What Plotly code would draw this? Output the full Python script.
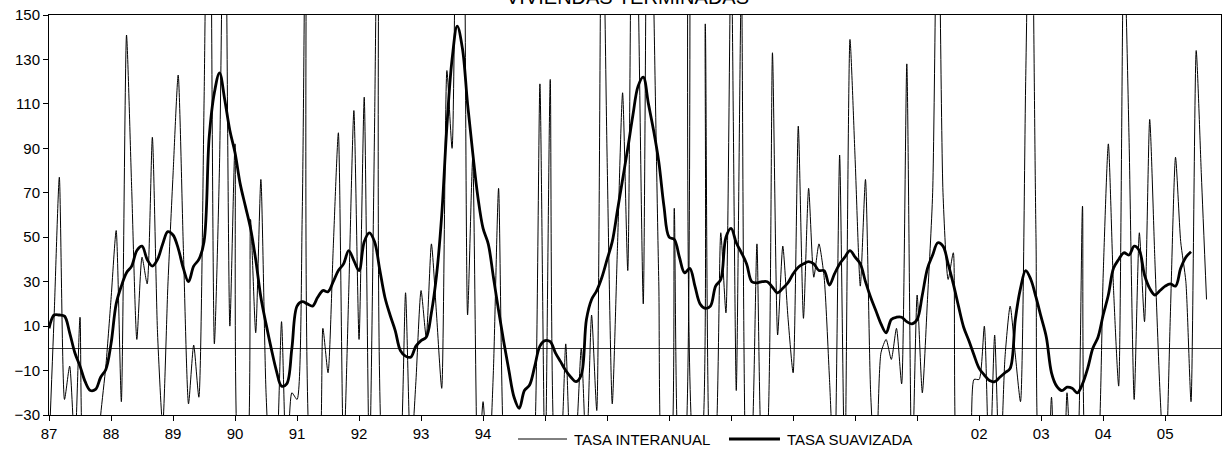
import plotly.graph_objects as go

# Monthly series, Jan 1987 = month 0
tasa_interanual = [
    -45, 15, 77, -23, -8, -45, 14, -60, -60, -60, -30, -8,          # 87
    22, 53, -24, 141, 72, 4, 41, 29, 95, 7, -35, 28,                # 88
    78, 123, 45, -25, 1.5, -22, 110, 300, 2, 83, 250, 10,           # 89
    92, -60, -60, 58, 7, 76, -20, -60, -50, 12, -60, -20,           # 90
    -23, 60, 300, -60, -60, 9, -11, 45, 97, -50, 25, 107,           # 91
    4, 113, -55, 100, 300, -60, -60, -60, -50, 25, -50, -15,        # 92
    26, 5, 47, 15, -18, 125, 90, 250, 300, 15, 86, -60,             # 93
    -24, -60, -10, 72, -45, -60, -60, -60, -60, -60, -40, 119,      # 94
    -60, 121, -50, -45, 2, -50, -40, 0, -50, 15, -28, 230,          # 95
    86, -25, 45, 115, 35, 260, 165, 20, 300, 160, 30, -60,          # 96
    -60, 63, -55, -50, 400, -50, -50, 146, -55, -45, 52, 16,        # 97
    185, -19, 169, -60, -45, 47, -50, -40, 133, 6, 46, 14,          # 98
    -11, 100, 13.5, 72, 32, 47, 32, -12, -60, 87, -60, 139,         # 99
    85, 28, 76, -20, -60, -2, 4, -5, 9, -16, 128, -60,              # 00
    24, -20, 22, 70, 230, 70, 31, 43, -60, -60, -60, -14,           # 01
    -14, 10, -60, 6, -60, -4, 19, -3, -24, 120, 250, 50,            # 02
    -60, -60, -22, -60, -60, -20, -60, -50, 64, -60, -60, -50,      # 03
    33, 92, 27, -17, 187, 95, -23, 52, 12, 103, 40, -20,            # 04
    -60, 15, 86, 48, 30, -24, 134, 78, 22,                          # 05
]

tasa_suavizada = [
    9, 15, 15, 14.5, 7, -2, -8, -15, -19, -18.5, -13, -9.5,         # 87
    2, 20, 28, 34, 37, 44, 46, 40, 37, 40, 47, 52.5,                # 88
    51, 45, 36, 30, 37, 40, 48, 95, 115, 124, 112, 98,              # 89
    88, 74, 64, 54, 40, 23, 11, 0, -10, -17, -16, 0,                # 90
    19, 21, 20, 19, 23, 26, 25.5, 30, 35, 38, 44, 39.5,             # 91
    35, 48, 52, 48, 35.5, 23, 15, 8, -1, -3.5, -4, 1,               # 92
    3.5, 5, 16, 33, 60, 100, 130, 145, 135, 110, 88, 68,            # 93
    54, 47, 32, 17, 3, -10, -22, -27, -19, -16.5, -8, 1,            # 94
    3.5, 3, -2, -6, -10, -13, -15, -12, 13, 22, 26, 32,             # 95
    40, 48, 62, 76, 90, 105, 118, 122, 110, 98, 84, 64,             # 96
    50, 49, 41, 34, 36, 28, 20, 18, 19, 28, 31, 50,                 # 97
    54, 47.5, 43, 38, 30, 29.5, 30, 30, 27.5, 25, 27, 29.5,         # 98
    33.5, 36.5, 38, 39, 38, 35, 35, 28.5, 33.5, 38, 41, 44,         # 99
    41, 38, 30, 23, 17, 11, 7, 13, 14, 14, 12, 11,                  # 00
    13, 24, 36, 42, 47.5, 46, 38, 29, 19, 9.5, 3.5, -3,             # 01
    -9, -12, -14.5, -15, -13, -11, -9, 13, 27, 35, 31, 23,          # 02
    14, 5, -11, -17, -19, -17.5, -18, -20, -16, -9, 0, 5,           # 03
    15, 24, 36, 40, 43, 42, 46, 44, 33, 27, 24, 26,                 # 04
    28, 29, 28, 36, 41, 43.5,                                       # 05
]

year_labels = ["87", "88", "89", "90", "91", "92", "93", "94", "95", "96",
               "97", "98", "99", "00", "01", "02", "03", "04", "05"]
hidden_by_legend = {"95", "96", "97", "98", "99", "00", "01"}
y_ticks = [-30, -10, 10, 30, 50, 70, 90, 110, 130, 150]

FONT = "Arial, Liberation Sans, sans-serif"

x_thin = list(range(len(tasa_interanual)))
x_thick = list(range(len(tasa_suavizada)))

fig = go.Figure()
fig.add_trace(go.Scatter(
    x=x_thin, y=tasa_interanual, mode="lines", name="TASA INTERANUAL",
    line=dict(color="#000000", width=1.0, shape="spline", smoothing=0.6),
    showlegend=False,
))
fig.add_trace(go.Scatter(
    x=x_thick, y=tasa_suavizada, mode="lines", name="TASA SUAVIZADA",
    line=dict(color="#000000", width=2.8, shape="spline", smoothing=1.0),
    showlegend=False,
))

tickvals = [12 * i for i in range(len(year_labels))]
ticktext = ["" if t in hidden_by_legend else t for t in year_labels]

fig.update_layout(
    width=1226, height=450,
    margin=dict(l=49, r=5, t=15, b=35, autoexpand=False),
    paper_bgcolor="white", plot_bgcolor="white",
    font=dict(family=FONT, size=15, color="#000"),
    xaxis=dict(
        range=[0, 226.8], tickvals=tickvals, ticktext=ticktext,
        automargin=False,
        showgrid=False, zeroline=False,
        showline=True, linecolor="#000", linewidth=1, mirror=True,
        ticks="outside", ticklen=5, tickcolor="#000",
        tickfont=dict(family=FONT, size=15, color="#000"),
    ),
    yaxis=dict(
        range=[-30, 150], tickvals=y_ticks,
        automargin=False,
        showgrid=False,
        zeroline=True, zerolinecolor="#333", zerolinewidth=1,
        showline=True, linecolor="#000", linewidth=1, mirror=True,
        ticks="outside", ticklen=5, tickcolor="#000",
        tickfont=dict(family=FONT, size=15, color="#000"),
    ),
)

# title, partly cut off at the top as in the reference
fig.add_annotation(
    text="VIVIENDAS TERMINADAS", xref="paper", yref="paper",
    x=0.4936, y=1.045, xanchor="center", yanchor="middle",
    showarrow=False, font=dict(family=FONT, size=20, color="#000"),
)

# legend drawn in the x-label row
ly = -0.06
fig.add_shape(type="line", xref="paper", yref="paper",
              x0=0.4002, x1=0.4420, y0=ly, y1=ly,
              line=dict(color="#000", width=1.0))
fig.add_annotation(text="TASA INTERANUAL", xref="paper", yref="paper",
                   x=0.4462, y=ly, xanchor="left", yanchor="middle",
                   showarrow=False, font=dict(family=FONT, size=15, color="#000"))
fig.add_shape(type="line", xref="paper", yref="paper",
              x0=0.5802, x1=0.6237, y0=ly, y1=ly,
              line=dict(color="#000", width=2.8))
fig.add_annotation(text="TASA SUAVIZADA", xref="paper", yref="paper",
                   x=0.6280, y=ly, xanchor="left", yanchor="middle",
                   showarrow=False, font=dict(family=FONT, size=15, color="#000"))

fig.write_html(
    "out.html",
    config={"displayModeBar": False, "staticPlot": True},
    post_script="document.body.style.margin='0';document.body.style.overflow='hidden';",
)
